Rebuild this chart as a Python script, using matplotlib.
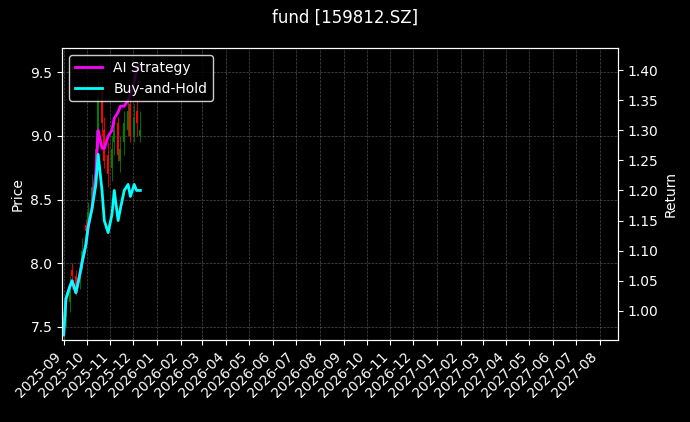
import numpy as np
import pandas as pd
import matplotlib
matplotlib.use("Agg")
import matplotlib.pyplot as plt
import matplotlib.dates as mdates
from matplotlib.ticker import MultipleLocator

dates = pd.bdate_range("2025-09-01", periods=25, freq="3B")
close = [7.55, 7.65, 7.8, 7.9, 7.82, 7.95, 8.1, 8.25, 8.4, 8.6, 8.9, 9.3, 9.1, 8.8, 8.7,
         8.9, 9.05, 8.85, 8.9, 9.1, 9.2, 9.0, 9.15, 9.1, 9.05]
opens = [7.45, 7.58, 7.7, 7.95, 7.9, 7.85, 8.0, 8.3, 8.3, 8.45, 8.7, 9.0, 9.35, 9.05, 8.85,
         8.75, 8.95, 9.1, 8.8, 8.95, 9.05, 9.25, 9.0, 9.2, 9.0]
highs = [7.6, 7.72, 7.9, 8.0, 7.95, 8.02, 8.2, 8.35, 8.48, 8.7, 9.05, 9.45, 9.4, 9.15, 8.95,
         9.0, 9.15, 9.15, 9.0, 9.2, 9.3, 9.3, 9.25, 9.3, 9.2]
lows = [7.4, 7.5, 7.62, 7.8, 7.75, 7.8, 7.95, 8.15, 8.25, 8.4, 8.6, 8.9, 9.0, 8.75, 8.6,
        8.65, 8.85, 8.8, 8.72, 8.85, 9.0, 8.95, 8.95, 9.0, 8.95]
ret_bh = [0.96, 1.02, 1.04, 1.05, 1.03, 1.06, 1.08, 1.11, 1.14, 1.17, 1.21, 1.26, 1.2,
          1.15, 1.13, 1.16, 1.2, 1.15, 1.17, 1.2, 1.21, 1.19, 1.21, 1.2, 1.2]
ret_ai = [0.96, 1.02, 1.04, 1.05, 1.03, 1.06, 1.08, 1.11, 1.14, 1.17, 1.23, 1.3, 1.27,
          1.27, 1.29, 1.3, 1.32, 1.33, 1.34, 1.34, 1.35, 1.36, 1.38, 1.40, 1.41]

plt.rcParams.update({"figure.facecolor": "black", "axes.facecolor": "black",
                     "text.color": "white", "axes.labelcolor": "white",
                     "xtick.color": "white", "ytick.color": "white",
                     "axes.edgecolor": "white"})

fig, ax = plt.subplots(figsize=(6.9, 4.22), dpi=100)
fig.subplots_adjust(left=0.09, right=0.895, top=0.886, bottom=0.195)

for d, o, h, l, c in zip(dates, opens, highs, lows, close):
    col = "green" if c >= o else "red"
    ax.vlines(d, l, h, color=col, linewidth=0.6)
    ax.vlines(d, min(o, c), max(o, c), color=col, linewidth=1.5)

ax.set_ylim(7.40, 9.69)
ax.set_ylabel("Price")
ax.set_xlim(pd.Timestamp("2025-08-30"), pd.Timestamp("2027-08-24"))
ax.xaxis.set_major_locator(mdates.MonthLocator())
ax.xaxis.set_major_formatter(mdates.DateFormatter("%Y-%m"))
plt.setp(ax.get_xticklabels(), rotation=45, ha="right")
ax.grid(True, linestyle="--", color="gray", linewidth=0.5, alpha=0.6)

ax2 = ax.twinx()
ax2.plot(dates, ret_ai, color="magenta", linewidth=2, label="AI Strategy")
ax2.plot(dates, ret_bh, color="cyan", linewidth=2, label="Buy-and-Hold")
ax2.set_ylim(0.952, 1.4365)
ax2.yaxis.set_major_locator(MultipleLocator(0.05))
ax2.set_ylabel("Return")
leg = ax2.legend(loc="upper left", facecolor="black", edgecolor="white")
for t in leg.get_texts():
    t.set_color("white")

fig.suptitle("fund [159812.SZ]", color="white")
fig.savefig("out.png", facecolor="black")
